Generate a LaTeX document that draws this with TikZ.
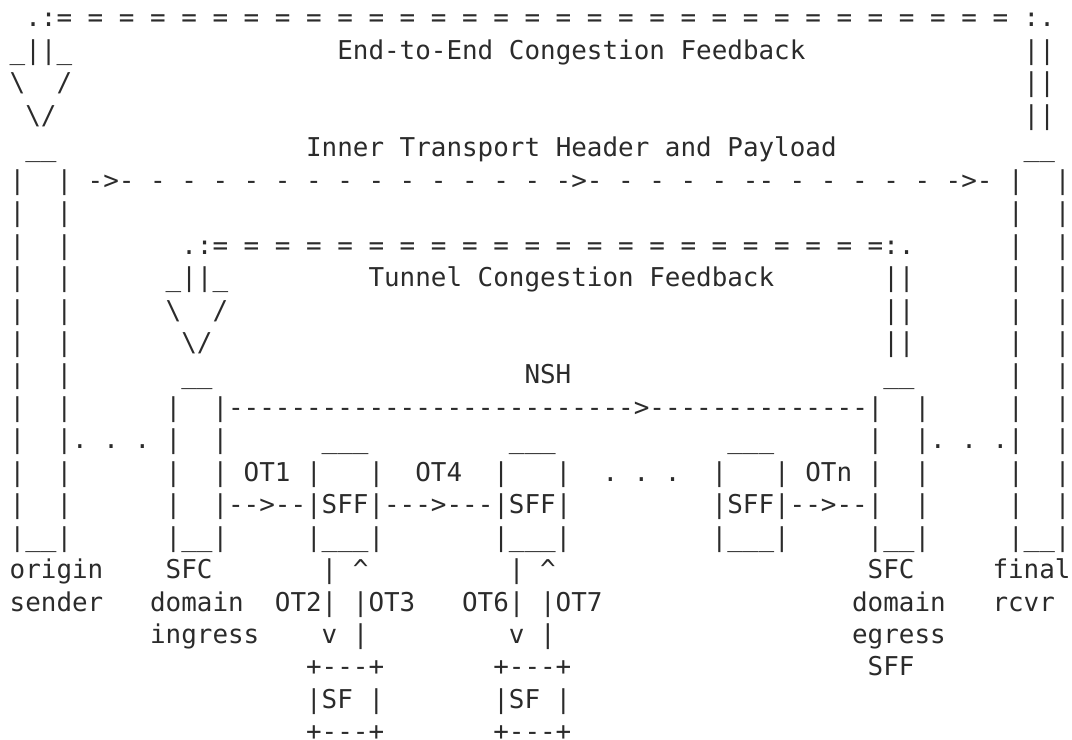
\documentclass[tikz,border=0pt]{standalone}
\usepackage{fontspec}
\setmonofont{DejaVu Sans Mono}
\usepackage{xcolor}
\definecolor{cInk}{HTML}{2B2B2B}
\tikzset{
  ascii-txt/.style={anchor=base west,inner sep=0pt,outer sep=0pt,text=cInk,
    font=\ttfamily\fontsize{12.96pt}{16.2pt}\selectfont\frenchspacing},
}

\begin{document}
\begin{tikzpicture}[x=7.8pt,y=16.225pt,every node/.style={ascii-txt}]
  \useasboundingbox (-0.622,-22.969) rectangle (68.096,-0.168);
  % end-to-end congestion feedback
  \node (e2e-l) at (1,-1) {.:};
  \foreach \c in {3,5,...,63} \node (e2e-eq-\c) at (\c,-1) {=};
  \node (e2e-r) at (65,-1) {:.};
  \node (e2e-head) at (0,-2) {\_||\_};
  \node (e2e-lbl) at (21,-2) {End-to-End Congestion Feedback};
  \node (e2e-wing) at (0,-3) {\textbackslash\ \ /};
  \node (e2e-tip) at (1,-4) {\textbackslash/};
  \foreach \r in {2,3,4} \node (e2e-up-\r) at (65,-\r) {||};

  % inner transport header and payload
  \node (snd-top) at (1,-5) {\_\_};
  \node (rcv-top) at (65,-5) {\_\_};
  \node (itp-lbl) at (19,-5) {Inner Transport Header and Payload};
  \node (itp-a1) at (5,-6) {->-};
  \foreach \c in {9,11,...,33} \node (itp-d-\c) at (\c,-6) {-};
  \node (itp-a2) at (35,-6) {->-};
  \foreach \c in {39,41,43,45,50,52,54,56,58} \node (itp-d-\c) at (\c,-6) {-};
  \node (itp-dd) at (47,-6) {--};
  \node (itp-a3) at (60,-6) {->-};
  \foreach \r in {6,...,16} {
    \node (snd-l-\r) at (0,-\r) {|};
    \node (snd-r-\r) at (3,-\r) {|};
    \node (rcv-l-\r) at (64,-\r) {|};
    \node (rcv-r-\r) at (67,-\r) {|};
  }
  \node (snd-bot) at (0,-17) {|\_\_|};
  \node (rcv-bot) at (64,-17) {|\_\_|};

  % tunnel congestion feedback
  \node (tun-l) at (11,-8) {.:};
  \foreach \c in {13,15,...,55} \node (tun-eq-\c) at (\c,-8) {=};
  \node (tun-r) at (56,-8) {:.};
  \node (tun-head) at (10,-9) {\_||\_};
  \node (tun-lbl) at (23,-9) {Tunnel Congestion Feedback};
  \node (tun-wing) at (10,-10) {\textbackslash\ \ /};
  \node (tun-tip) at (11,-11) {\textbackslash/};
  \foreach \r in {9,10,11} \node (tun-up-\r) at (56,-\r) {||};

  % NSH from ingress to egress
  \node (ing-top) at (11,-12) {\_\_};
  \node (egr-top) at (56,-12) {\_\_};
  \node (nsh-lbl) at (33,-12) {NSH};
  \node (nsh-line) at (14,-13) {-------------------------->--------------};
  \foreach \r in {13,...,16} {
    \node (ing-l-\r) at (10,-\r) {|};
    \node (ing-r-\r) at (13,-\r) {|};
    \node (egr-l-\r) at (55,-\r) {|};
    \node (egr-r-\r) at (58,-\r) {|};
  }
  \node (ing-bot) at (10,-17) {|\_\_|};
  \node (egr-bot) at (55,-17) {|\_\_|};
  \node (dots-in) at (4,-14) {. . .};
  \node (dots-out) at (59,-14) {. . .};

  % service function forwarders
  \node (sff1-top) at (20,-14) {\_\_\_};
  \node (sff2-top) at (32,-14) {\_\_\_};
  \node (sffn-top) at (46,-14) {\_\_\_};
  \node (ot1) at (15,-15) {OT1};
  \node (sff1-up) at (19,-15) {|\ \ \ |};
  \node (ot4) at (26,-15) {OT4};
  \node (sff2-up) at (31,-15) {|\ \ \ |};
  \node (dots-sff) at (38,-15) {. . .};
  \node (sffn-up) at (45,-15) {|\ \ \ |};
  \node (otn) at (51,-15) {OTn};
  \node (sff-chain) at (14,-16) {-->--|SFF|--->---|SFF|};
  \node (sffn-mid) at (45,-16) {|SFF|-->--};
  \node (sff1-bot) at (19,-17) {|\_\_\_|};
  \node (sff2-bot) at (31,-17) {|\_\_\_|};
  \node (sffn-bot) at (45,-17) {|\_\_\_|};

  % service functions
  \node (sf1-link) at (20,-18) {|\ \textasciicircum};
  \node (sf2-link) at (32,-18) {|\ \textasciicircum};
  \node (sf1-ot) at (17,-19) {OT2| |OT3};
  \node (sf2-ot) at (29,-19) {OT6| |OT7};
  \node (sf1-dn) at (20,-20) {v |};
  \node (sf2-dn) at (32,-20) {v |};
  \foreach \n/\c in {1/19,2/31} {
    \node (sf\n-a) at (\c,-21) {+---+};
    \node (sf\n-b) at (\c,-22) {|SF |};
    \node (sf\n-c) at (\c,-23) {+---+};
  }

  % end point labels
  \node (snd-lbl1) at (0,-18) {origin};
  \node (snd-lbl2) at (0,-19) {sender};
  \node (ing-lbl1) at (10,-18) {SFC};
  \node (ing-lbl2) at (9,-19) {domain};
  \node (ing-lbl3) at (9,-20) {ingress};
  \node (egr-lbl1) at (55,-18) {SFC};
  \node (egr-lbl2) at (54,-19) {domain};
  \node (egr-lbl3) at (54,-20) {egress};
  \node (egr-lbl4) at (55,-21) {SFF};
  \node (rcv-lbl1) at (63,-18) {final};
  \node (rcv-lbl2) at (63,-19) {rcvr};
\end{tikzpicture}
\end{document}
